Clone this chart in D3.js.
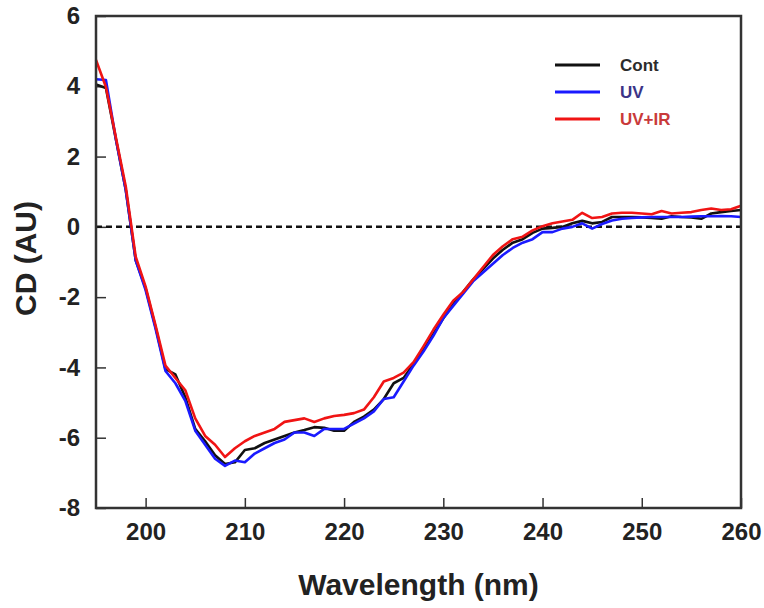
<!DOCTYPE html>
<html>
<head>
<meta charset="utf-8">
<script src="https://cdn.jsdelivr.net/npm/d3@7"></script>
<style>
  body { margin: 0; background: #fff; }
  text { font-family: "Liberation Sans", Arial, sans-serif; font-weight: bold; }
</style>
</head>
<body>
<div id="chart"></div>
<script>
// wavelength grid (nm) and CD readings for each sample
const wavelengths = d3.range(195, 261);

const cont = [4.05, 3.95, 2.5, 1.05, -0.95, -1.75, -2.85, -4.05, -4.2, -4.85,
    -5.75, -6.1, -6.5, -6.75, -6.7, -6.35, -6.3, -6.15, -6.05, -5.95,
    -5.85, -5.78, -5.7, -5.72, -5.8, -5.8, -5.55, -5.4, -5.2, -4.9,
    -4.45, -4.3, -3.9, -3.5, -3.05, -2.6, -2.2, -1.85, -1.5, -1.2,
    -0.9, -0.65, -0.45, -0.35, -0.17, -0.05, -0.03, 0.0, 0.1, 0.17,
    0.1, 0.14, 0.28, 0.28, 0.28, 0.27, 0.25, 0.23, 0.3, 0.28,
    0.27, 0.23, 0.38, 0.42, 0.45, 0.48];

const uv = [4.2, 4.18, 2.5, 1.05, -0.95, -1.8, -2.9, -4.1, -4.45, -4.95,
    -5.8, -6.2, -6.6, -6.8, -6.65, -6.7, -6.45, -6.3, -6.15, -6.05,
    -5.85, -5.85, -5.95, -5.75, -5.75, -5.75, -5.6, -5.45, -5.25, -4.9,
    -4.85, -4.4, -3.95, -3.55, -3.1, -2.6, -2.25, -1.9, -1.55, -1.3,
    -1.05, -0.8, -0.6, -0.45, -0.35, -0.15, -0.15, -0.05, 0.0, 0.1,
    -0.05, 0.08, 0.18, 0.23, 0.25, 0.27, 0.28, 0.28, 0.28, 0.28,
    0.29, 0.3, 0.3, 0.31, 0.3, 0.28];

const uvir = [4.75, 3.98, 2.55, 1.15, -0.85, -1.7, -2.8, -3.95, -4.3, -4.65,
    -5.45, -5.95, -6.2, -6.55, -6.3, -6.1, -5.95, -5.85, -5.75, -5.55,
    -5.5, -5.45, -5.55, -5.45, -5.38, -5.35, -5.3, -5.2, -4.85, -4.4,
    -4.3, -4.15, -3.85, -3.4, -2.93, -2.5, -2.1, -1.85, -1.5, -1.15,
    -0.8, -0.55, -0.35, -0.28, -0.1, 0.02, 0.1, 0.15, 0.2, 0.4,
    0.25, 0.28, 0.38, 0.4, 0.4, 0.38, 0.36, 0.45, 0.38, 0.4,
    0.42, 0.48, 0.52, 0.48, 0.5, 0.6];

const seriesNames = ["Cont", "UV", "UV+IR"];
const xTicks = [200, 210, 220, 230, 240, 250, 260];
const yTicks = [-8, -6, -4, -2, 0, 2, 4, 6];

const lineColors = {"Cont": "#111111", "UV": "#1a1aff", "UV+IR": "#f01414"};
const labelColors = {"Cont": "#2b2b2b", "UV": "#3b3487", "UV+IR": "#c93a3a"};

const margin = {top: 16, right: 23, bottom: 100, left: 96},
    width = 764 - margin.left - margin.right,
    height = 608 - margin.top - margin.bottom;

const svg = d3.select("#chart")
    .append("svg")
        .attr("width", 764)
        .attr("height", 608)
    .append("g")
        .attr("transform", `translate(${margin.left}, ${margin.top})`);

const x = d3.scaleLinear().domain([195, 260]).range([0, width]);
const y = d3.scaleLinear().domain([-8, 6]).range([height, 0]);

// axes with inward ticks, plain hyphen for negatives
const xAxis = svg.append("g")
    .attr("transform", `translate(0, ${height})`)
    .call(d3.axisBottom(x).tickValues(xTicks).tickFormat(d => String(d))
        .tickSizeInner(-10).tickSizeOuter(0).tickPadding(15));
xAxis.select(".domain").remove();
xAxis.selectAll("line").attr("stroke", "#333").attr("stroke-width", 1.5);
xAxis.selectAll("text").style("font-size", "24px").attr("fill", "#222");

const yAxis = svg.append("g")
    .call(d3.axisLeft(y).tickValues(yTicks).tickFormat(d => String(d))
        .tickSizeInner(-10).tickSizeOuter(0).tickPadding(16));
yAxis.select(".domain").remove();
yAxis.selectAll("line").attr("stroke", "#333").attr("stroke-width", 1.5);
yAxis.selectAll("text").style("font-size", "24px").attr("fill", "#222");

// zero reference
svg.append("line")
    .attr("x1", 0).attr("x2", width)
    .attr("y1", y(0)).attr("y2", y(0))
    .attr("stroke", "#111")
    .attr("stroke-width", 2.5)
    .attr("stroke-dasharray", "6,4");

// curves
const line = d3.line()
    .x((d, i) => x(wavelengths[i]))
    .y(d => y(d));

const allSeries = [cont, uv, uvir];
allSeries.forEach((vals, k) => {
    svg.append("path")
        .datum(vals)
        .attr("fill", "none")
        .attr("stroke", lineColors[seriesNames[k]])
        .attr("stroke-width", 2.6)
        .attr("stroke-linejoin", "round")
        .attr("d", line);
});

// frame
svg.append("rect")
    .attr("x", 0).attr("y", 0)
    .attr("width", width).attr("height", height)
    .attr("fill", "none")
    .attr("stroke", "#333")
    .attr("stroke-width", 2.5);

// legend
const legend = svg.append("g").attr("transform", "translate(459, 49)");
seriesNames.forEach((name, i) => {
    legend.append("line")
        .attr("x1", 0).attr("x2", 45)
        .attr("y1", i * 27).attr("y2", i * 27)
        .attr("stroke", lineColors[name])
        .attr("stroke-width", 3);
    legend.append("text")
        .attr("x", 65)
        .attr("y", i * 27)
        .attr("dy", "0.35em")
        .style("font-size", "17px")
        .attr("fill", labelColors[name])
        .text(name);
});

// axis titles
svg.append("text")
    .attr("x", width / 2)
    .attr("y", height + 87)
    .attr("text-anchor", "middle")
    .style("font-size", "30px")
    .attr("fill", "#222")
    .text("Wavelength (nm)");

svg.append("text")
    .attr("transform", `translate(${-60}, ${y(-0.9)}) rotate(-90)`)
    .attr("text-anchor", "middle")
    .style("font-size", "30px")
    .attr("fill", "#222")
    .text("CD (AU)");
</script>
</body>
</html>
